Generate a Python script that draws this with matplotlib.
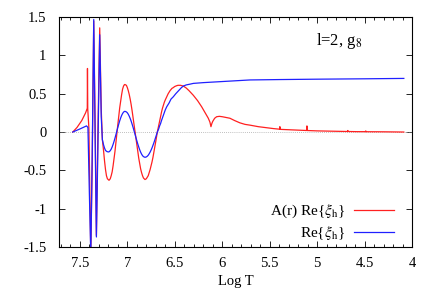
import matplotlib
matplotlib.use("Agg")
import matplotlib.pyplot as plt
from matplotlib.ticker import MultipleLocator

plt.rcParams["font.family"] = ["Liberation Serif", "DejaVu Serif"]
plt.rcParams["mathtext.fontset"] = "stix"

# A(r) Re{xi_h}  (red)
red_logt = [7.575, 7.53, 7.48, 7.44, 7.422, 7.420, 7.417, 7.405, 7.392, 7.385,
            7.37, 7.354, 7.34, 7.326, 7.31, 7.291, 7.275, 7.263, 7.25, 7.24,
            7.23, 7.22, 7.21, 7.193, 7.18, 7.17, 7.16, 7.15, 7.14, 7.13,
            7.12, 7.11, 7.10, 7.09, 7.08, 7.07, 7.06, 7.05, 7.04, 7.03,
            7.024, 7.01, 7.00, 6.99, 6.98, 6.97, 6.96, 6.95, 6.94, 6.93,
            6.92, 6.91, 6.90, 6.89, 6.88, 6.87, 6.86, 6.85, 6.84, 6.83,
            6.814, 6.80, 6.79, 6.78, 6.77, 6.76, 6.75, 6.74, 6.73, 6.72,
            6.71, 6.70, 6.69, 6.684, 6.67, 6.66, 6.65, 6.64, 6.63, 6.62,
            6.61, 6.60, 6.585, 6.57, 6.55, 6.53, 6.516, 6.50, 6.48, 6.466,
            6.44, 6.41, 6.38, 6.35, 6.305, 6.26, 6.217, 6.18, 6.147, 6.13,
            6.119, 6.11, 6.10, 6.08, 6.059, 6.03, 6.00, 5.96, 5.919, 5.87,
            5.814, 5.76, 5.708, 5.62, 5.533, 5.46, 5.396, 5.393, 5.39, 5.30,
            5.20, 5.111, 5.108, 5.105, 5.00, 4.90, 4.80, 4.679, 4.677, 4.675,
            4.58, 4.490, 4.488, 4.486, 4.30, 4.087]
red_val = [0.00, 0.06, 0.15, 0.25, 0.31, 0.83, 0.30, 0.05, -1.00, -1.60,
           -0.40, 1.45, 0.20, -1.35, 0.00, 1.36, 0.30, -0.10, -0.25, -0.38,
           -0.49, -0.57, -0.61, -0.63, -0.61, -0.57, -0.52, -0.44, -0.35, -0.25,
           -0.13, -0.02, 0.10, 0.21, 0.32, 0.41, 0.49, 0.56, 0.60, 0.62,
           0.62, 0.61, 0.58, 0.54, 0.49, 0.43, 0.36, 0.28, 0.19, 0.10,
           0.01, -0.08, -0.17, -0.26, -0.34, -0.41, -0.48, -0.53, -0.57, -0.60,
           -0.62, -0.61, -0.59, -0.57, -0.53, -0.49, -0.44, -0.39, -0.33, -0.26,
           -0.19, -0.12, -0.04, 0.00, 0.08, 0.14, 0.20, 0.26, 0.31, 0.35,
           0.39, 0.42, 0.46, 0.50, 0.54, 0.57, 0.58, 0.595, 0.605, 0.61,
           0.61, 0.60, 0.575, 0.54, 0.48, 0.41, 0.33, 0.25, 0.18, 0.13,
           0.07, 0.11, 0.14, 0.18, 0.20, 0.205, 0.20, 0.19, 0.18, 0.15,
           0.12, 0.10, 0.09, 0.07, 0.056, 0.045, 0.037, 0.07, 0.035, 0.03,
           0.025, 0.02, 0.08, 0.02, 0.015, 0.012, 0.01, 0.007, 0.02, 0.007,
           0.005, 0.005, 0.015, 0.004, 0.003, 0.0]

# Re{xi_h}  (blue)
blue_logt = [7.575, 7.50, 7.43, 7.415, 7.40, 7.385, 7.37, 7.354, 7.34, 7.326,
             7.31, 7.291, 7.275, 7.263, 7.25, 7.24, 7.23, 7.215, 7.20, 7.19,
             7.18, 7.17, 7.16, 7.15, 7.14, 7.13, 7.12, 7.11, 7.10, 7.09,
             7.08, 7.07, 7.06, 7.05, 7.04, 7.03, 7.024, 7.01, 7.00, 6.99,
             6.98, 6.97, 6.96, 6.95, 6.94, 6.93, 6.92, 6.91, 6.90, 6.89,
             6.88, 6.87, 6.86, 6.85, 6.84, 6.83, 6.814, 6.80, 6.79, 6.78,
             6.77, 6.76, 6.75, 6.74, 6.73, 6.72, 6.71, 6.70, 6.69, 6.684,
             6.67, 6.66, 6.65, 6.64, 6.62, 6.60, 6.585, 6.56, 6.54, 6.516,
             6.49, 6.46, 6.43, 6.41, 6.38, 6.34, 6.305, 6.20, 6.059, 5.919,
             5.708, 5.40, 5.00, 4.50, 4.087]
blue_val = [0.00, 0.04, 0.08, 0.06, -0.80, -1.60, -0.30, 1.47, 0.00, -1.37,
            -0.20, 1.27, 0.20, -0.10, -0.17, -0.21, -0.24, -0.255, -0.26, -0.256,
            -0.243, -0.223, -0.195, -0.161, -0.122, -0.079, -0.033, 0.015, 0.061, 0.106,
            0.148, 0.185, 0.217, 0.242, 0.26, 0.269, 0.27, 0.263, 0.251, 0.232,
            0.207, 0.177, 0.143, 0.104, 0.063, 0.019, -0.025, -0.07, -0.114, -0.156,
            -0.195, -0.231, -0.262, -0.288, -0.308, -0.321, -0.33, -0.325, -0.316, -0.303,
            -0.284, -0.262, -0.236, -0.207, -0.174, -0.139, -0.102, -0.063, -0.024, 0.0,
            0.04, 0.08, 0.11, 0.15, 0.22, 0.29, 0.33, 0.38, 0.43, 0.46,
            0.50, 0.54, 0.58, 0.60, 0.615, 0.625, 0.635, 0.645, 0.655, 0.665,
            0.68, 0.685, 0.69, 0.695, 0.70]

fig = plt.figure(figsize=(4.37, 3.06), dpi=100)
ax = fig.add_axes([0.135, 0.193, 0.808, 0.751])

ax.axhline(0, color="#aaaaaa", lw=0.6, ls=(0, (1, 1.5)))
ax.plot(red_logt, red_val, color="#ff2020", lw=0.9, label=r"A(r) Re{$\xi_{\rm h}$}")
ax.plot(blue_logt, blue_val, color="#2020ff", lw=0.9, label=r"Re{$\xi_{\rm h}$}")

ax.set_xlim(7.72, 4.0)
ax.set_ylim(-1.5, 1.5)
ax.xaxis.set_major_locator(MultipleLocator(0.5))
ax.xaxis.set_minor_locator(MultipleLocator(0.1))
ax.yaxis.set_major_locator(MultipleLocator(0.5))
ax.xaxis.set_major_formatter(plt.FuncFormatter(lambda v, p: f"{v:g}"))
ax.yaxis.set_major_formatter(plt.FuncFormatter(lambda v, p: f"{v:g}"))
ax.tick_params(which="both", direction="in", top=True, right=True, labelsize=10.5)
ax.tick_params(axis="x", pad=7)
ax.tick_params(axis="y", pad=9)
ax.tick_params(which="major", length=4, width=0.6)
ax.tick_params(which="minor", length=2, width=0.6)
for s in ax.spines.values():
    s.set_linewidth(0.8)

ax.set_xlabel("Log T", fontsize=10.5, labelpad=4)
ax.text(0.728, 0.878, r"l=2, g$_8$", transform=ax.transAxes, fontsize=12)

ax.legend(loc="lower right", bbox_to_anchor=(0.948, 0.022), frameon=False,
          markerfirst=False, fontsize=11, handlelength=2.6, handletextpad=0.6,
          labelspacing=0.25, borderpad=0, borderaxespad=0)

fig.savefig("out.png", dpi=100)
